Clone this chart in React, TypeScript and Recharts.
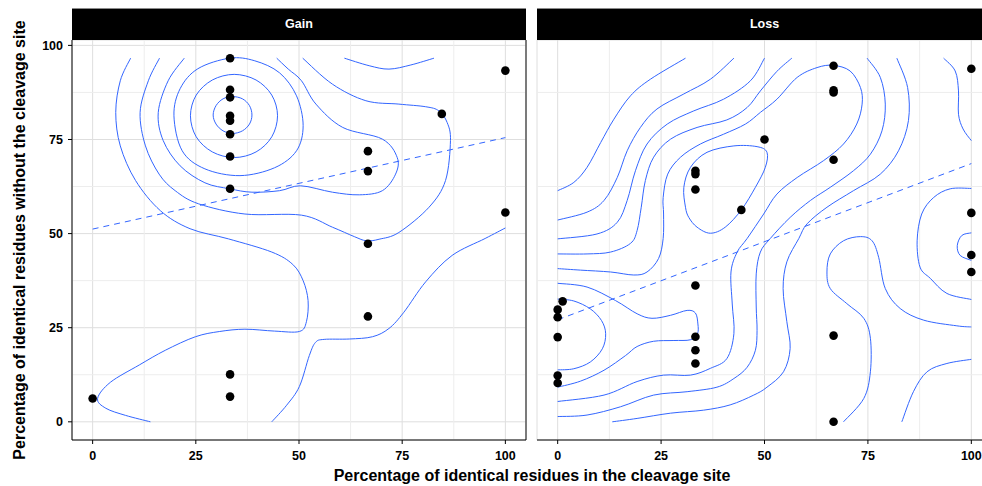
import React from "react";
import { CartesianGrid, ComposedChart, Line, ReferenceLine, Scatter, XAxis, YAxis } from "recharts";

type Pt = [number, number];

const TICKS = [0, 25, 50, 75, 100];
const MINOR_TICKS = [12.5, 37.5, 62.5, 87.5];
const X_DOMAIN: [number, number] = [-5, 105];
const Y_DOMAIN: [number, number] = [-4.83, 101.43];
const BLUE = "#3366FF";
const FONT = "'Liberation Sans', Arial, Helvetica, sans-serif";

// observations
const gainPoints: Pt[] = [
  [0, 6.2], [33.3, 96.6], [33.3, 88.2], [33.3, 86.2], [33.3, 81.3], [33.3, 80.0], [33.3, 76.4],
  [33.3, 70.5], [33.3, 61.9], [33.3, 12.6], [33.3, 6.7], [66.7, 71.9], [66.7, 66.6], [66.7, 47.3],
  [66.7, 28.0], [84.6, 81.8], [100, 93.3], [100, 55.6]
];
const lossPoints: Pt[] = [
  [0, 10.3], [0, 12.3], [0, 22.5], [0, 27.8], [0, 29.8], [1.2, 32.0], [33.3, 15.5], [33.3, 19.0],
  [33.3, 22.6], [33.3, 36.2], [33.3, 61.7], [33.3, 65.8], [33.3, 66.7], [44.4, 56.3], [50, 75.0],
  [66.7, 0], [66.7, 22.9], [66.7, 69.6], [66.7, 87.5], [66.7, 88.1], [66.7, 94.6], [100, 39.8],
  [100, 44.3], [100, 55.5], [100, 93.8]
];

// linear fits (dashed)
const gainTrend: Pt[] = [[0, 51.2], [100, 75.5]];
const lossTrend: Pt[] = [[0, 27.1], [100, 68.6]];

// density contours, Gain panel
const gainRing1: Pt[] = [
  [38.6, 81.5], [38.0, 84.0], [36.3, 85.8], [33.9, 86.4], [31.6, 85.8], [29.9, 84.0],
  [29.2, 81.5], [29.9, 79.1], [31.6, 77.3], [33.9, 76.6], [36.3, 77.3], [38.0, 79.1]
];
const gainRing2: Pt[] = [
  [44.8, 81.3], [43.4, 86.8], [39.6, 90.8], [34.3, 92.3], [29.0, 90.8], [25.1, 86.8],
  [23.7, 81.3], [25.1, 75.7], [29.0, 71.7], [34.3, 70.2], [39.6, 71.7], [43.4, 75.7]
];
const gainRing3: Pt[] = [
  [33.2, 96.6], [39.3, 95.9], [45.3, 92.7], [49.4, 86.6], [51.0, 78.7], [49.4, 72.0], [44.1, 67.5],
  [35.7, 65.4], [27.2, 67.2], [21.7, 72.0], [19.7, 81.3], [21.2, 88.5], [25.5, 93.8]
];
const gainLevel4: Pt[] = [
  [22.2, 96.6], [18.3, 90.6], [15.9, 82.2], [17.1, 74.7], [21.2, 68.0], [27.2, 63.5], [33.2, 61.9],
  [38.6, 61.0], [45.3, 61.4], [50.4, 62.7], [58.1, 61.0], [64.6, 60.3], [70.2, 61.4], [73.4, 65.8],
  [73.8, 70.2], [70.2, 75.1], [60.6, 78.2], [54.1, 84.4], [50.6, 90.6], [47.4, 93.7], [44.6, 96.6]
];
const gainLevel5: Pt[] = [
  [16.2, 96.6], [13.5, 90.6], [11.5, 82.2], [12.8, 73.3], [16.1, 65.8], [20.0, 61.4], [25.7, 57.9],
  [36.9, 55.2], [50.6, 54.9], [58.1, 51.7], [63.4, 49.2], [66.3, 48.1], [69.4, 48.5], [74.2, 50.3],
  [81.5, 57.0], [85.5, 64.1], [86.7, 74.7], [85.9, 79.5], [83.9, 82.6], [80.7, 83.7], [74.2, 84.4],
  [66.2, 85.3], [58.1, 89.7], [50.9, 96.6]
];
const gainLevel6: Pt[] = [
  [9.2, 96.6], [6.7, 90.6], [5.6, 82.2], [6.7, 73.3], [10.4, 64.1], [16.4, 56.1], [23.6, 51.3],
  [32.9, 48.6], [43.4, 45.1], [48.5, 41.8], [51.0, 37.5], [52.2, 32.2], [51.8, 26.6], [50.1, 24.0],
  [44.1, 24.1], [36.9, 24.6], [30.8, 24.0], [24.9, 22.6], [17.6, 19.0], [11.3, 15.1], [4.3, 10.5],
  [1.2, 6.2], [3.2, 3.6], [8.0, 1.7], [14.0, 0]
];
const gainTopBowl: Pt[] = [[61.0, 96.6], [67.0, 94.6], [71.8, 93.7], [77.1, 94.8], [82.7, 96.6]];
const gainLowRight: Pt[] = [
  [43.4, 0], [47.0, 4.4], [50.1, 9.4], [52.5, 17.6], [54.0, 21.1], [56.1, 21.9], [62.2, 22.0],
  [67.8, 22.6], [71.8, 24.8], [75.4, 29.1], [80.7, 37.2], [87.1, 44.2], [95.1, 48.7], [100, 51.5]
];

// density contours, Loss panel
const lossDiag1: Pt[] = [
  [0, 61.4], [3.9, 63.6], [7.1, 67.6], [10.4, 74.2], [13.6, 80.4], [17.6, 86.6], [22.4, 91.0], [30.9, 96.6]
];
const lossDiag2: Pt[] = [
  [0, 53.6], [7.1, 55.7], [11.2, 58.8], [14.4, 64.9], [16.8, 72.0], [20.0, 78.2], [24.0, 83.1],
  [30.5, 87.1], [36.9, 91.0], [42.6, 96.6]
];
const lossDiag3: Pt[] = [
  [0, 48.6], [9.5, 49.9], [14.4, 53.0], [16.8, 58.8], [18.8, 66.7], [21.6, 73.8], [26.5, 79.1],
  [32.9, 82.6], [40.1, 85.7], [46.6, 90.6], [50.0, 96.6]
];
const lossDiag4: Pt[] = [
  [0, 44.6], [7.1, 44.6], [12.8, 45.1], [17.6, 47.4], [19.2, 50.8], [20.2, 57.0], [21.2, 64.1],
  [23.2, 70.3], [27.3, 75.1], [33.7, 78.2], [40.9, 80.2], [45.8, 83.5], [49.0, 87.9], [53.0, 93.1], [56.6, 96.6]
];
const lossBig: Pt[] = [
  [0, 40.7], [5.5, 40.3], [12.8, 39.8], [18.4, 39.0], [21.6, 39.8], [24.4, 43.4], [25.5, 48.7],
  [25.6, 55.2], [25.5, 59.6], [26.6, 65.8], [29.7, 70.3], [34.5, 73.8], [40.1, 76.4], [45.4, 79.1],
  [49.0, 82.2], [53.0, 85.7], [57.9, 91.5], [62.7, 94.1], [66.6, 94.7], [70.7, 93.2], [73.2, 88.8],
  [73.6, 84.4], [72.3, 79.1], [69.1, 73.8], [64.3, 69.4], [57.9, 64.9], [53.0, 60.5], [49.8, 55.2],
  [45.8, 48.7], [43.4, 45.1], [41.9, 39.8], [42.2, 31.3], [42.6, 23.4], [40.9, 16.8], [36.9, 14.2],
  [32.1, 12.4], [25.6, 12.4], [19.2, 10.7], [11.2, 7.1], [0, 5.4]
];
const lossRing: Pt[] = [
  [30.9, 57.0], [30.5, 62.3], [32.1, 67.6], [36.1, 71.6], [42.6, 73.3], [48.2, 73.1], [50.6, 71.6],
  [50.2, 67.6], [47.8, 62.3], [44.4, 56.3], [40.5, 51.7], [36.9, 50.1], [33.7, 51.7], [31.7, 54.3]
];
const lossPinch: Pt[] = [
  [0, 36.8], [7.1, 35.8], [14.0, 32.2], [19.2, 28.7], [22.8, 27.5], [27.3, 28.3], [31.3, 29.6],
  [33.3, 28.9], [33.9, 26.0], [33.8, 23.4], [32.1, 21.8], [28.1, 21.6], [23.2, 21.4], [19.2, 20.0],
  [16.4, 17.6], [11.2, 13.7], [5.5, 10.8], [0, 9.2]
];
const lossLeftArc: Pt[] = [
  [0, 32.6], [3.9, 32.1], [7.9, 30.0], [10.6, 26.9], [11.6, 23.4], [10.8, 19.4], [7.9, 15.9], [3.9, 14.1], [0, 13.8]
];
const lossWave1: Pt[] = [
  [74.8, 96.6], [78.0, 91.5], [79.2, 84.4], [78.4, 77.3], [75.6, 71.1], [71.5, 66.7], [65.9, 62.3],
  [61.1, 58.8], [56.2, 54.3], [51.4, 48.7], [49.0, 45.1], [48.0, 39.3], [48.0, 30.5], [48.2, 24.3],
  [47.8, 19.0], [45.8, 14.5], [42.6, 11.5], [38.5, 9.2], [31.3, 8.0], [23.2, 7.1], [15.2, 4.0], [7.1, 1.8], [0, 1.4]
];
const lossWave2: Pt[] = [
  [82.0, 96.6], [84.6, 88.8], [84.8, 80.0], [82.4, 72.0], [78.0, 65.8], [71.5, 61.4], [65.1, 57.0],
  [60.3, 52.6], [58.3, 48.7], [55.4, 42.5], [54.5, 35.4], [55.4, 26.6], [56.2, 19.5], [54.6, 13.3],
  [50.6, 9.2], [47.4, 7.1], [41.7, 4.5], [35.3, 3.1], [27.3, 2.3], [19.2, 0.9], [13.2, 0]
];
const lossMidRight: Pt[] = [
  [69.1, 0], [74.0, 6.2], [75.6, 13.3], [75.6, 22.2], [74.0, 27.5], [69.9, 31.4], [65.9, 35.4],
  [65.1, 39.8], [65.9, 44.6], [69.1, 48.1], [73.2, 49.2], [76.0, 48.1], [77.6, 43.7], [79.2, 35.4],
  [82.8, 30.1], [88.5, 27.0], [96.5, 25.5], [100, 25.2]
];
const lossRightArc: Pt[] = [
  [100, 62.0], [94.9, 61.9], [90.9, 59.6], [88.0, 55.2], [86.9, 48.1], [87.6, 41.1], [90.1, 38.1], [94.1, 34.1], [100, 32.5]
];
const lossRightSmall: Pt[] = [[100, 50.2], [97.7, 49.5], [96.6, 46.8], [97.3, 44.2], [100, 42.9]];
const lossTopRight: Pt[] = [[93.3, 96.6], [96.1, 93.2], [96.9, 87.9], [96.9, 81.7], [98.0, 77.8], [100, 74.7]];
const lossBottomRight: Pt[] = [[83.2, 0], [86.0, 8.0], [89.3, 13.3], [94.1, 15.5], [100, 16.6]];

type Contour = { pts: Pt[]; closed?: boolean };

const gainContours: Contour[] = [
  { pts: gainRing1, closed: true },
  { pts: gainRing2, closed: true },
  { pts: gainRing3, closed: true },
  { pts: gainLevel4 },
  { pts: gainLevel5 },
  { pts: gainLevel6 },
  { pts: gainTopBowl },
  { pts: gainLowRight }
];
const lossContours: Contour[] = [
  { pts: lossDiag1 },
  { pts: lossDiag2 },
  { pts: lossDiag3 },
  { pts: lossDiag4 },
  { pts: lossBig },
  { pts: lossRing, closed: true },
  { pts: lossPinch },
  { pts: lossLeftArc },
  { pts: lossWave1 },
  { pts: lossWave2 },
  { pts: lossMidRight },
  { pts: lossRightArc },
  { pts: lossRightSmall },
  { pts: lossTopRight },
  { pts: lossBottomRight }
];

const toRows = (pts: Pt[]) => pts.map(([x, y]) => ({ x, y }));

// catmull-rom through the traced points, optionally closed
function smoothCurve(closed: boolean) {
  return (ctx: any) => {
    let pts: number[][] = [];
    return {
      areaStart() {},
      areaEnd() {},
      lineStart() {
        pts = [];
      },
      point(x: number, y: number) {
        pts.push([+x, +y]);
      },
      lineEnd() {
        const n = pts.length;
        if (n < 2) return;
        const at = (i: number) => (closed ? pts[(i + n) % n] : pts[Math.max(0, Math.min(n - 1, i))]);
        ctx.moveTo(pts[0][0], pts[0][1]);
        const segs = closed ? n : n - 1;
        for (let i = 0; i < segs; i++) {
          const p0 = at(i - 1);
          const p1 = at(i);
          const p2 = at(i + 1);
          const p3 = at(i + 2);
          ctx.bezierCurveTo(
            p1[0] + (p2[0] - p0[0]) / 6,
            p1[1] + (p2[1] - p0[1]) / 6,
            p2[0] - (p3[0] - p1[0]) / 6,
            p2[1] - (p3[1] - p1[1]) / 6,
            p2[0],
            p2[1]
          );
        }
        if (closed) ctx.closePath();
      }
    };
  };
}
const openCurve = smoothCurve(false);
const closedCurve = smoothCurve(true);

const tickStyle = { fill: "#000", fontSize: 12.5, fontWeight: 700, fontFamily: FONT };

type FacetProps = {
  points: Pt[];
  trend: Pt[];
  contours: Contour[];
  width: number;
  first: boolean;
};

function Facet({ points, trend, contours, width, first }: FacetProps) {
  return (
    <ComposedChart
      width={width}
      height={486}
      margin={{ top: 40, right: first ? 1 : 0, bottom: 0, left: first ? 0 : 1 }}
    >
      <CartesianGrid stroke="#DEDEDE" />
      {MINOR_TICKS.map((v) => (
        <ReferenceLine key={`mx${v}`} x={v} stroke="#EDEDED" />
      ))}
      {MINOR_TICKS.map((v) => (
        <ReferenceLine key={`my${v}`} y={v} stroke="#EDEDED" />
      ))}
      <XAxis
        type="number"
        dataKey="x"
        domain={X_DOMAIN}
        allowDataOverflow
        ticks={TICKS}
        interval={0}
        height={46}
        tickSize={4}
        tickMargin={7}
        axisLine={{ stroke: "#000" }}
        tickLine={{ stroke: "#000" }}
        tick={tickStyle}
      />
      <YAxis
        type="number"
        dataKey="y"
        domain={Y_DOMAIN}
        allowDataOverflow
        ticks={TICKS}
        interval={0}
        width={first ? 72 : 0}
        tickSize={4}
        tickMargin={5}
        axisLine={{ stroke: "#000" }}
        tickLine={first ? { stroke: "#000" } : false}
        tick={first ? tickStyle : false}
      />
      {first ? <ReferenceLine x={105} stroke="#555" strokeWidth={1.5} ifOverflow="visible" /> : null}
      {contours.map((c, i) => (
        <Line
          key={i}
          data={toRows(c.pts)}
          dataKey="y"
          type={c.closed ? closedCurve : openCurve}
          stroke={BLUE}
          strokeWidth={1}
          fill="none"
          dot={false}
          activeDot={false}
          isAnimationActive={false}
        />
      ))}
      <Line
        data={toRows(trend)}
        dataKey="y"
        type="linear"
        stroke={BLUE}
        strokeWidth={1}
        strokeDasharray="6 5"
        dot={false}
        activeDot={false}
        isAnimationActive={false}
      />
      <Scatter
        data={toRows(points)}
        fill="#000"
        isAnimationActive={false}
        shape={(p: any) => <circle cx={p.cx} cy={p.cy} r={4.3} fill="#000" />}
      />
    </ComposedChart>
  );
}

const stripStyle: React.CSSProperties = {
  position: "absolute",
  top: 8,
  height: 32,
  boxSizing: "border-box",
  borderTop: "1px solid #8a8a8a",
  background: "#000",
  color: "#fff",
  fontFamily: FONT,
  fontWeight: 700,
  fontSize: 12.5,
  lineHeight: "31px",
  textAlign: "center"
};

export default function App() {
  return (
    <div
      style={{
        position: "absolute",
        left: 0,
        top: 0,
        width: 982,
        height: 486,
        overflow: "hidden",
        background: "#fff",
        fontFamily: FONT
      }}
    >
      <div style={{ position: "absolute", left: 0, top: 0 }}>
        <Facet points={gainPoints} trend={gainTrend} contours={gainContours} width={527} first />
      </div>
      <div style={{ position: "absolute", left: 536, top: 0 }}>
        <Facet points={lossPoints} trend={lossTrend} contours={lossContours} width={456} first={false} />
      </div>
      <div style={{ ...stripStyle, left: 72, width: 454 }}>Gain</div>
      <div style={{ ...stripStyle, left: 537, width: 455 }}>Loss</div>
      <div
        style={{
          position: "absolute",
          left: 532,
          top: 476,
          transform: "translate(-50%, -50%)",
          whiteSpace: "nowrap",
          fontSize: 16,
          fontWeight: 700,
          lineHeight: 1,
          color: "#000"
        }}
      >
        Percentage of identical residues in the cleavage site
      </div>
      <div
        style={{
          position: "absolute",
          left: 20,
          top: 240,
          transform: "translate(-50%, -50%) rotate(-90deg)",
          whiteSpace: "nowrap",
          fontSize: 16,
          fontWeight: 700,
          lineHeight: 1,
          color: "#000"
        }}
      >
        Percentage of identical residues without the cleavage site
      </div>
    </div>
  );
}
